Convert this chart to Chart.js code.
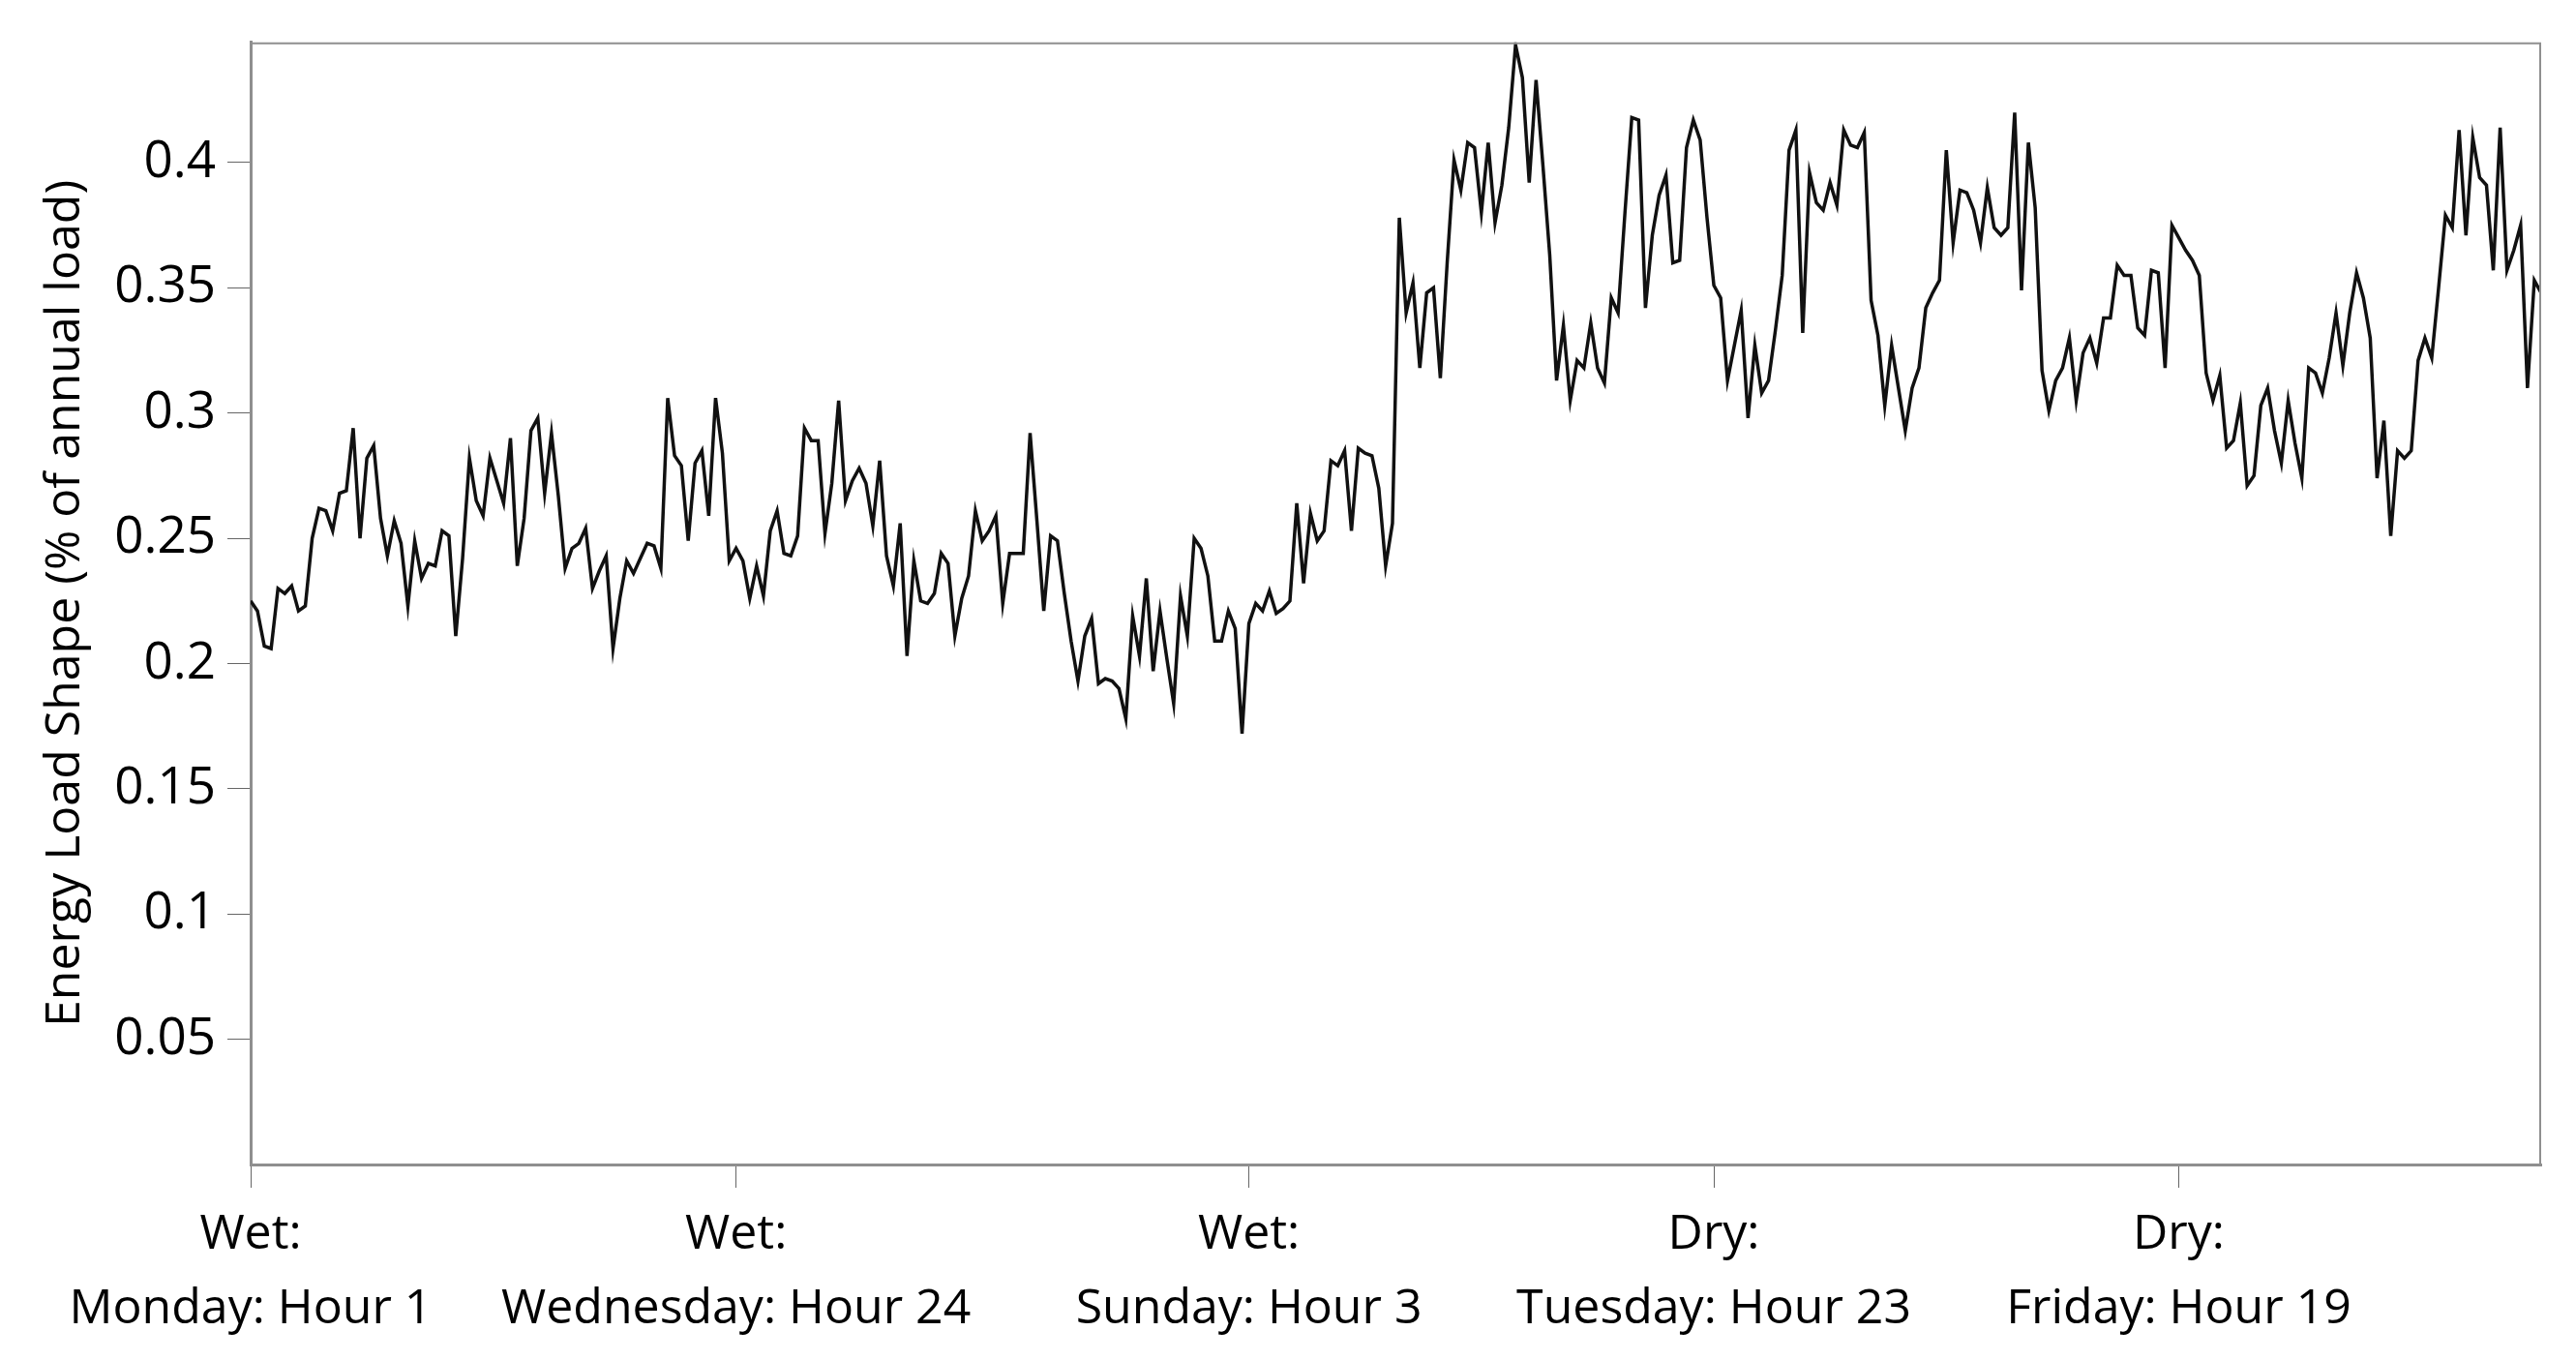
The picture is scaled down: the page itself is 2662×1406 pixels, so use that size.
<!DOCTYPE html>
<html>
<head>
<meta charset="utf-8">
<title>Energy Load Shape</title>
<script src="https://cdn.jsdelivr.net/npm/chart.js@4.4.1/dist/chart.umd.min.js"></script>
<style>
  html, body { margin: 0; padding: 0; background: #fff; }
  canvas { display: block; }
</style>
</head>
<body>
<canvas id="loadChart" width="2662" height="1406"></canvas>
<script>
// hourly load shape, wet week (Mon H1..Sun H24) followed by dry week
const loadShape = [
  0.225, 0.221, 0.207, 0.206, 0.230, 0.228, 0.231, 0.221, 0.223, 0.250,
  0.262, 0.261, 0.253, 0.268, 0.269, 0.294, 0.250, 0.282, 0.287, 0.258,
  0.243, 0.257, 0.248, 0.223, 0.249, 0.234, 0.240, 0.239, 0.253, 0.251,
  0.211, 0.242, 0.282, 0.265, 0.259, 0.282, 0.273, 0.264, 0.290, 0.239,
  0.258, 0.293, 0.298, 0.268, 0.292, 0.267, 0.238, 0.246, 0.248, 0.254,
  0.230, 0.237, 0.243, 0.206, 0.226, 0.241, 0.236, 0.242, 0.248, 0.247,
  0.238, 0.306, 0.283, 0.279, 0.249, 0.280, 0.285, 0.259, 0.306, 0.284,
  0.241, 0.246, 0.241, 0.226, 0.239, 0.227, 0.253, 0.261, 0.244, 0.243,
  0.251, 0.294, 0.289, 0.289, 0.252, 0.272, 0.305, 0.265, 0.273, 0.278,
  0.272, 0.255, 0.281, 0.243, 0.231, 0.256, 0.203, 0.241, 0.225, 0.224,
  0.228, 0.244, 0.240, 0.211, 0.226, 0.235, 0.261, 0.249, 0.253, 0.259,
  0.224, 0.244, 0.244, 0.244, 0.292, 0.257, 0.221, 0.251, 0.249, 0.228,
  0.209, 0.193, 0.211, 0.218, 0.192, 0.194, 0.193, 0.190, 0.178, 0.219,
  0.203, 0.234, 0.197, 0.221, 0.202, 0.184, 0.227, 0.211, 0.250, 0.246,
  0.235, 0.209, 0.209, 0.221, 0.214, 0.172, 0.216, 0.224, 0.221, 0.229,
  0.220, 0.222, 0.225, 0.264, 0.232, 0.260, 0.249, 0.253, 0.281, 0.279,
  0.285, 0.253, 0.286, 0.284, 0.283, 0.270, 0.239, 0.256, 0.378, 0.340,
  0.352, 0.318, 0.348, 0.350, 0.314, 0.360, 0.401, 0.389, 0.408, 0.406,
  0.380, 0.408, 0.376, 0.391, 0.414, 0.447, 0.434, 0.392, 0.433, 0.399,
  0.363, 0.313, 0.335, 0.305, 0.321, 0.318, 0.336, 0.318, 0.312, 0.346,
  0.340, 0.380, 0.418, 0.417, 0.342, 0.371, 0.387, 0.395, 0.360, 0.361,
  0.406, 0.417, 0.409, 0.378, 0.351, 0.346, 0.313, 0.327, 0.341, 0.298,
  0.327, 0.308, 0.313, 0.333, 0.355, 0.405, 0.413, 0.332, 0.396, 0.384,
  0.381, 0.392, 0.383, 0.413, 0.407, 0.406, 0.412, 0.345, 0.331, 0.303,
  0.327, 0.310, 0.293, 0.310, 0.318, 0.342, 0.348, 0.353, 0.405, 0.368,
  0.389, 0.388, 0.381, 0.368, 0.390, 0.374, 0.371, 0.374, 0.420, 0.349,
  0.408, 0.382, 0.317, 0.301, 0.313, 0.318, 0.330, 0.305, 0.324, 0.330,
  0.320, 0.338, 0.338, 0.359, 0.355, 0.355, 0.334, 0.331, 0.357, 0.356,
  0.318, 0.375, 0.370, 0.365, 0.361, 0.355, 0.316, 0.305, 0.315, 0.286,
  0.289, 0.304, 0.271, 0.275, 0.303, 0.310, 0.293, 0.280, 0.305, 0.288,
  0.274, 0.318, 0.316, 0.308, 0.322, 0.340, 0.319, 0.340, 0.356, 0.346,
  0.330, 0.274, 0.297, 0.251, 0.285, 0.282, 0.285, 0.321, 0.330, 0.322,
  0.350, 0.379, 0.374, 0.413, 0.371, 0.410, 0.394, 0.391, 0.357, 0.414,
  0.357, 0.365, 0.375, 0.310, 0.353, 0.348
];

// labelled hours on the x axis (index into loadShape)
const tickIndex = [0, 71, 146, 214, 282];
const tickSeason = ['Wet:', 'Wet:', 'Wet:', 'Dry:', 'Dry:'];
const tickHour = ['Monday: Hour 1', 'Wednesday: Hour 24', 'Sunday: Hour 3', 'Tuesday: Hour 23', 'Friday: Hour 19'];

const yTicks = [0, 0.05, 0.1, 0.15, 0.2, 0.25, 0.3, 0.35, 0.4];

const FONT = '"Open Sans", "DejaVu Sans", sans-serif';
const AXIS_GREY = '#8f8f8f';

const points = loadShape.map((v, i) => ({ x: i, y: v }));

// top and right edges of the plot frame
const frameBorder = {
    id: 'frameBorder',
    afterDraw(chart) {
        const { ctx, chartArea } = chart;
        ctx.save();
        ctx.strokeStyle = AXIS_GREY;
        ctx.lineWidth = 2;
        ctx.beginPath();
        ctx.moveTo(chartArea.left, chartArea.top + 1);
        ctx.lineTo(chartArea.right - 1, chartArea.top + 1);
        ctx.lineTo(chartArea.right - 1, chartArea.bottom);
        ctx.stroke();
        ctx.restore();
    }
};

new Chart(document.getElementById('loadChart').getContext('2d'), {
    type: 'line',
    data: {
        datasets: [{
            data: points,
            borderColor: '#111',
            borderWidth: 3.5,
            pointRadius: 0,
            tension: 0,
            fill: false
        }]
    },
    options: {
        responsive: false,
        animation: false,
        devicePixelRatio: 1,
        layout: { padding: { top: 43, right: 36, left: 0, bottom: 0 } },
        plugins: {
            legend: { display: false },
            tooltip: { enabled: false }
        },
        scales: {
            x: {
                type: 'linear',
                min: 0,
                max: loadShape.length - 1,
                afterBuildTicks(scale) {
                    scale.ticks = tickIndex.map(v => ({ value: v }));
                },
                afterFit(scale) { scale.height = 203; },
                border: { display: true, color: AXIS_GREY, width: 3 },
                grid: { drawOnChartArea: false, tickLength: 24, tickColor: '#666', tickWidth: 1 },
                ticks: {
                    autoSkip: false,
                    maxRotation: 0,
                    padding: 10,
                    color: '#000',
                    font: { family: FONT, size: 50, weight: 'normal', lineHeight: 1.54 },
                    callback: function(value) {
                        const k = tickIndex.indexOf(value);
                        return k < 0 ? '' : [tickSeason[k], tickHour[k]];
                    }
                }
            },
            y: {
                min: 0,
                max: 0.448,
                afterBuildTicks(scale) {
                    scale.ticks = yTicks.map(v => ({ value: v }));
                },
                afterFit(scale) { scale.width = 259; },
                border: { display: true, color: AXIS_GREY, width: 3 },
                grid: {
                    drawOnChartArea: false,
                    tickLength: 24,
                    tickWidth: 1,
                    tickColor: ctx => (ctx.tick && ctx.tick.value === 0 ? 'rgba(0,0,0,0)' : '#666')
                },
                ticks: {
                    padding: 12,
                    color: '#000',
                    font: { family: FONT, size: 53, weight: 'normal' },
                    callback: v => (v === 0 ? '' : String(+v.toFixed(2)))
                },
                title: {
                    display: true,
                    text: 'Energy Load Shape (% of annual load)',
                    color: '#000',
                    font: { family: FONT, size: 50, weight: 'normal', lineHeight: 1.2 },
                    padding: { top: 38, bottom: 0 }
                }
            }
        }
    },
    plugins: [frameBorder]
});
</script>
</body>
</html>
